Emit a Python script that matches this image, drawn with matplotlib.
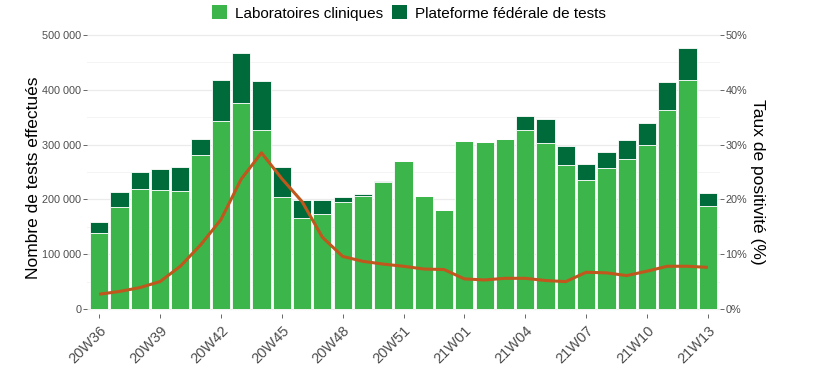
import numpy as np
import matplotlib
matplotlib.use('Agg')
import matplotlib.pyplot as plt
from matplotlib.ticker import FuncFormatter
from matplotlib.patches import Patch

matplotlib.rcParams['font.family'] = ['Liberation Sans', 'DejaVu Sans']

weeks = ['20W%02d' % w for w in range(36, 54)] + ['21W%02d' % w for w in range(1, 14)]

labo = [139000, 186000, 219000, 217000, 216000, 281000, 343000, 375600, 326000,
        204000, 165700, 173000, 195000, 206000, 232000, 270600, 206000, 181000,
        306000, 305000, 310700, 326500, 302800, 263000, 236000, 258000, 273700,
        299800, 363000, 417000, 188700]
total = [159000, 213600, 250600, 256000, 258500, 309500, 417500, 466600, 415700,
         259000, 199000, 199600, 205000, 210000, 234000, 270600, 206000, 181000,
         306000, 305000, 310700, 352500, 346500, 298000, 264600, 287000, 307600,
         338600, 414500, 477000, 211000]
positivite = [2.7, 3.2, 3.9, 5.0, 7.8, 11.7, 16.3, 23.7, 28.5, 23.8, 19.6, 13.1,
              9.6, 8.7, 8.2, 7.8, 7.3, 7.2, 5.5, 5.3, 5.6, 5.6, 5.2, 5.0, 6.7,
              6.6, 6.1, 6.9, 7.8, 7.8, 7.6]

federal = np.array(total) - np.array(labo)

c_labo = '#3cb54a'
c_fed = '#006b3a'
c_line = '#c0571d'
grey = '#4d4d4d'

fig = plt.figure(figsize=(8.22, 3.77), dpi=100)
W, H = 822, 377
ax = fig.add_axes([87 / W, 1 - 314 / H, (720 - 87) / W, (314 - 22) / H])
ax2 = ax.twinx()

x = np.arange(len(weeks))
ax.bar(x, labo, width=0.9, color=c_labo, edgecolor='white', linewidth=0.6, zorder=2)
ax.bar(x, federal, bottom=labo, width=0.9, color=c_fed, edgecolor='white', linewidth=0.6, zorder=2)

ylo, yhi = -9100, 523700
ax.set_ylim(ylo, yhi)
ax.set_xlim(-0.6, len(weeks) - 0.4)
ax.set_yticks(np.arange(0, 500001, 100000))
ax.set_yticks(np.arange(50000, 500000, 100000), minor=True)
ax.yaxis.set_major_formatter(FuncFormatter(lambda v, p: '{:,.0f}'.format(v).replace(',', ' ')))
ax.grid(axis='y', which='major', color='#ebebeb', linewidth=0.9, zorder=0)
ax.grid(axis='y', which='minor', color='#f2f2f2', linewidth=0.6, zorder=0)
ax.set_axisbelow(True)

ax.set_xticks(x[::3])
ax.set_xticklabels(weeks[::3], rotation=45, ha='right', va='top', rotation_mode='anchor')
ax.tick_params(axis='x', labelsize=10.5, colors=grey, length=3, width=0.6, pad=4)
ax.tick_params(axis='y', which='major', labelsize=7.8, colors=grey, length=3, width=0.6, pad=1)
ax.tick_params(axis='y', which='minor', length=0)

ax2.plot(x, positivite, color=c_line, linewidth=2.2, zorder=3, solid_capstyle='butt')
ax2.set_ylim(ylo / 10000, yhi / 10000)
ax2.set_yticks(np.arange(0, 51, 10))
ax2.yaxis.set_major_formatter(FuncFormatter(lambda v, p: '%d%%' % v))
ax2.tick_params(axis='y', labelsize=7.8, colors=grey, length=3, width=0.6, pad=1)

for a in (ax, ax2):
    for s in a.spines.values():
        s.set_visible(False)

fig.text(33 / W, 1 - 178 / H, 'Nombre de tests effectués', rotation=90,
         ha='center', va='center', fontsize=12.5)
fig.text(757 / W, 1 - 182 / H, 'Taux de positivité (%)', rotation=270,
         ha='center', va='center', fontsize=12.5)

handles = [Patch(facecolor=c_labo, edgecolor='none', label='Laboratoires cliniques'),
           Patch(facecolor=c_fed, edgecolor='none', label='Plateforme fédérale de tests')]
fig.legend(handles=handles, loc='center', bbox_to_anchor=(409 / W, 1 - 13 / H), ncol=2,
           frameon=False, fontsize=11, handlelength=1.0, handleheight=1.0,
           handletextpad=0.5, columnspacing=0.6, borderaxespad=0)

fig.savefig('out.png', dpi=100)
